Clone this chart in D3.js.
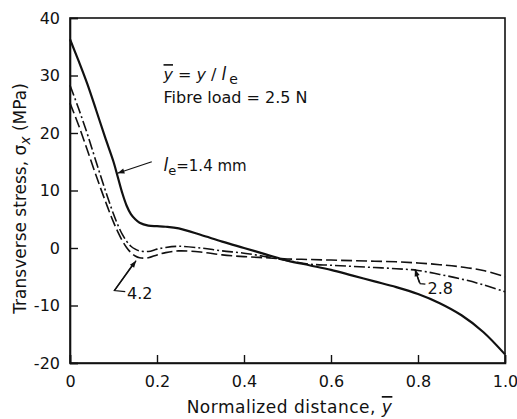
<!DOCTYPE html>
<html>
<head>
<meta charset="utf-8">
<script src="https://cdn.jsdelivr.net/npm/d3@7"></script>
<style>
  html, body { margin: 0; padding: 0; background: #fff; }
  svg { display: block; font-family: "DejaVu Sans", sans-serif; }
  text { fill: #111; }
</style>
</head>
<body>
<svg id="chart" width="517" height="419"></svg>
<script>
// ---- data ----
const xValues = [0, 0.02, 0.04, 0.06, 0.08, 0.10, 0.11, 0.12, 0.13, 0.14, 0.15, 0.16, 0.18, 0.20, 0.22, 0.25, 0.30, 0.35, 0.40, 0.45, 0.50, 0.55, 0.60, 0.65, 0.70, 0.75, 0.80, 0.85, 0.90, 0.95, 1.0];
const stress14 = [36.3, 32.5, 28.5, 24.0, 19.4, 15.0, 12.3, 9.6, 7.4, 5.9, 5.0, 4.4, 3.9, 3.8, 3.7, 3.4, 2.3, 1.1, 0.0, -1.1, -2.2, -3.0, -3.8, -4.8, -5.8, -6.8, -8.0, -9.6, -11.7, -14.6, -18.5];
const stress28 = [28.3, 24.2, 19.8, 15.0, 10.3, 5.9, 4.0, 2.4, 1.2, 0.3, -0.2, -0.5, -0.6, -0.2, 0.1, 0.3, 0.0, -0.5, -0.9, -1.5, -2.2, -2.8, -3.0, -3.2, -3.4, -3.6, -3.9, -4.6, -5.4, -6.4, -7.6];
const stress42 = [25.2, 21.3, 17.0, 12.6, 8.4, 4.5, 2.8, 1.3, 0.1, -0.8, -1.4, -1.7, -1.7, -1.2, -0.8, -0.5, -0.7, -1.2, -1.5, -1.7, -1.9, -2.0, -2.1, -2.2, -2.3, -2.4, -2.6, -2.9, -3.3, -3.9, -5.0];
const xTicks = [0, 0.2, 0.4, 0.6, 0.8, 1.0];
const xTickLabels = ["0", "0.2", "0.4", "0.6", "0.8", "1.0"];
const yTicks = [-20, -10, 0, 10, 20, 30, 40];
const yTickLabels = ["-20", "-10", "0", "10", "20", "30", "40"];

// ---- layout ----
const svg = d3.select("#chart");
const margin = { left: 70, right: 12, top: 18, bottom: 56 };
const W = 517, H = 419;
const x = d3.scaleLinear().domain([0, 1]).range([margin.left, W - margin.right]);
const y = d3.scaleLinear().domain([-20, 40]).range([H - margin.bottom, margin.top]);

// frame
svg.append("rect")
  .attr("x", x(0)).attr("y", y(40))
  .attr("width", x(1) - x(0)).attr("height", y(-20) - y(40))
  .attr("fill", "none").attr("stroke", "#111").attr("stroke-width", 1.6);

// axes
const xAxis = d3.axisBottom(x).tickValues(xTicks)
  .tickFormat((d, i) => xTickLabels[i]).tickSize(-8).tickPadding(13);
const yAxis = d3.axisLeft(y).tickValues(yTicks)
  .tickFormat((d, i) => yTickLabels[i]).tickSize(-8).tickPadding(10);

const gx = svg.append("g").attr("transform", `translate(0,${y(-20)})`).call(xAxis);
const gy = svg.append("g").attr("transform", `translate(${x(0)},0)`).call(yAxis);
[gx, gy].forEach(g => {
  g.select(".domain").attr("stroke", "#111").attr("stroke-width", 1.6);
  g.selectAll(".tick line").attr("stroke", "#111").attr("stroke-width", 1.4);
  g.selectAll(".tick text").attr("fill", "#111")
    .style("font-family", '"DejaVu Sans", sans-serif').style("font-size", "16px");
});

// curves
const line = d3.line().x(d => x(d[0])).y(d => y(d[1])).curve(d3.curveCatmullRom.alpha(0.5));
const series = [
  { vals: stress42, dash: "11,4", width: 1.6 },
  { vals: stress28, dash: "11,3,2,3", width: 1.6 },
  { vals: stress14, dash: null, width: 2.2 }
];
series.forEach(s => {
  svg.append("path")
    .datum(xValues.map((xv, i) => [xv, s.vals[i]]))
    .attr("d", line)
    .attr("fill", "none")
    .attr("stroke", "#111")
    .attr("stroke-width", s.width)
    .attr("stroke-dasharray", s.dash);
});

// arrowhead helper
function arrow(x1, y1, x2, y2) {
  svg.append("line").attr("x1", x1).attr("y1", y1).attr("x2", x2).attr("y2", y2)
    .attr("stroke", "#111").attr("stroke-width", 1.3);
  const a = Math.atan2(y2 - y1, x2 - x1), L = 7, w = 2.6;
  const bx = x2 - L * Math.cos(a), by = y2 - L * Math.sin(a);
  const px = -Math.sin(a) * w, py = Math.cos(a) * w;
  svg.append("path")
    .attr("d", `M${x2},${y2}L${bx + px},${by + py}L${bx - px},${by - py}Z`)
    .attr("fill", "#111");
}

// annotation: l_e = 1.4 mm
arrow(x(0.188), y(15.0), x(0.109), y(13.0));
const t1 = svg.append("text").attr("x", x(0.215)).attr("y", y(13.4)).style("font-size", "15px");
t1.append("tspan").style("font-style", "italic").style("font-size", "17px").text("l");
t1.append("tspan").attr("dy", 4).style("font-size", "13px").text("e");
t1.append("tspan").attr("dy", -4).text("=1.4 mm");

// annotation: 4.2
svg.append("path")
  .attr("d", `M${x(0.127)},${y(-7.6)}L${x(0.102)},${y(-7.4)}L${x(0.147)},${y(-2.6)}`)
  .attr("fill", "none").attr("stroke", "#111").attr("stroke-width", 1.3);
arrow(x(0.102), y(-7.4), x(0.152), y(-2.2));
svg.append("text").attr("x", x(0.131)).attr("y", y(-8.8)).style("font-size", "16px").text("4.2");

// annotation: 2.8
svg.append("path")
  .attr("d", `M${x(0.817)},${y(-6.3)}L${x(0.805)},${y(-6.2)}L${x(0.794)},${y(-4.0)}`)
  .attr("fill", "none").attr("stroke", "#111").attr("stroke-width", 1.3);
arrow(x(0.803), y(-6.0), x(0.793), y(-3.7));
svg.append("text").attr("x", x(0.822)).attr("y", y(-8.0)).style("font-size", "16px").text("2.8");

// top-left notes
const n1 = svg.append("text").attr("x", x(0.215)).attr("y", y(29.2)).style("font-size", "16px");
n1.append("tspan").style("font-style", "italic").style("text-decoration", "overline").text("y");
n1.append("tspan").text(" = ");
n1.append("tspan").style("font-style", "italic").text("y");
n1.append("tspan").text(" / ");
n1.append("tspan").style("font-style", "italic").style("font-size", "17px").text("l");
n1.append("tspan").attr("dx", 3).attr("dy", 4).style("font-size", "14px").text("e");
svg.append("text").attr("x", x(0.215)).attr("y", y(25.2)).style("font-size", "16px")
  .text("Fibre load = 2.5 N");

// axis titles
const xt = svg.append("text").attr("x", (x(0) + x(1)) / 2 + 2).attr("y", 413)
  .attr("text-anchor", "middle").style("font-size", "17px").style("letter-spacing", "0.5px");
xt.append("tspan").text("Normalized distance, ");
xt.append("tspan").style("font-style", "italic").style("text-decoration", "overline").text("y");

const yt = svg.append("text")
  .attr("transform", `translate(26,${(y(-20) + y(40)) / 2 + 8}) rotate(-90)`)
  .attr("text-anchor", "middle").style("font-size", "17px");
yt.append("tspan").text("Transverse stress, σ");
yt.append("tspan").attr("dy", 4).style("font-style", "italic").style("font-size", "14px").text("x");
yt.append("tspan").attr("dy", -4).text(" (MPa)");
</script>
</body>
</html>
